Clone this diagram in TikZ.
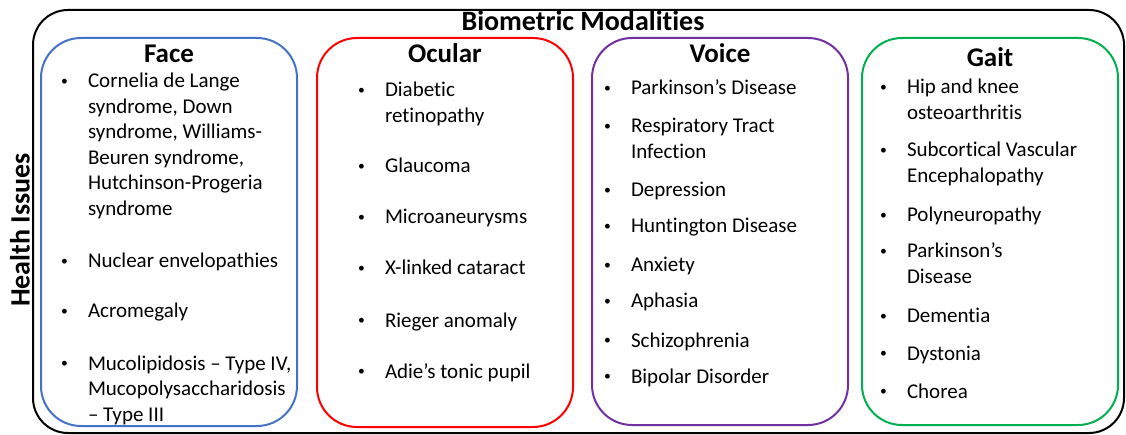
\documentclass[tikz,border=0pt]{standalone}
\usepackage{fontspec}
\setmainfont{Carlito}[Ligatures=NoCommon]
\definecolor{cblue}{HTML}{4472C4}
\definecolor{cred}{HTML}{FF0000}
\definecolor{cpurple}{HTML}{7030A0}
\definecolor{cgreen}{HTML}{00B050}
\newcommand\itm[1]{\llap{\makebox[0pt]{\raisebox{2.5pt}{\scalebox{0.65}{•}}}\hspace{23.5pt}}\begin{tabular}[t]{@{}l@{}}#1\end{tabular}}
\begin{document}
\begin{tikzpicture}[x=1pt,y=-1pt,
  every node/.style={inner sep=0pt, outer sep=0pt},
  item/.style={anchor=base west, font=\fontsize{21}{25.5}\selectfont},
  head/.style={anchor=base, font=\fontsize{27}{32}\selectfont\bfseries},
  mbox/.style={line width=2pt, rounded corners=40pt}]
\useasboundingbox (0,0) rectangle (1126,435);
% outer frame
\draw[line width=2pt, rounded corners=35pt] (33,10) rectangle (1124,433);
\node[anchor=base, font=\fontsize{28}{33}\selectfont\bfseries] (title) at (583,31) {Biometric Modalities};
\node[rotate=90, font=\fontsize{28}{33}\selectfont\bfseries] (health) at (20,230) {Health Issues};
% boxes
\draw[mbox, cblue] (41,38) rectangle (297,426);
\draw[mbox, cred] (317,38) rectangle (573,427);
\draw[mbox, cpurple] (592,38) rectangle (848,425);
\draw[mbox, cgreen] (862,38) rectangle (1118,425);
% headings
\node[head] (hface) at (169,63) {Face};
\node[head] (hocular) at (445,63) {Ocular};
\node[head] (hvoice) at (720,63) {Voice};
\node[head] (hgait) at (990,67) {Gait};
% Face
\node[item] (f1) at (88,88) {\itm{Cornelia de Lange\\syndrome, Down\\syndrome, Williams-\\Beuren syndrome,\\Hutchinson-Progeria\\syndrome}};
\node[item] (f2) at (88,268) {\itm{Nuclear envelopathies}};
\node[item] (f3) at (88,318) {\itm{Acromegaly}};
\node[item] (f4) at (88,370) {\itm{Mucolipidosis -- Type IV,\\Mucopolysaccharidosis\\-- Type III}};
% Ocular
\node[item] (o1) at (385,97) {\itm{Diabetic\\retinopathy}};
\node[item] (o2) at (385,173) {\itm{Glaucoma}};
\node[item] (o3) at (385,224) {\itm{Microaneurysms}};
\node[item] (o4) at (385,275) {\itm{X-linked cataract}};
\node[item] (o5) at (385,327) {\itm{Rieger anomaly}};
\node[item] (o6) at (385,378) {\itm{Adie’s tonic pupil}};
% Voice
\node[item] (v1) at (631,95) {\itm{Parkinson’s Disease}};
\node[item] (v2) at (631,133) {\itm{Respiratory Tract\\Infection}};
\node[item] (v3) at (631,197) {\itm{Depression}};
\node[item] (v4) at (631,233) {\itm{Huntington Disease}};
\node[item] (v5) at (631,272) {\itm{Anxiety}};
\node[item] (v6) at (631,308) {\itm{Aphasia}};
\node[item] (v7) at (631,347) {\itm{Schizophrenia}};
\node[item] (v8) at (631,383) {\itm{Bipolar Disorder}};
% Gait
\node[item] (g1) at (907,94) {\itm{Hip and knee\\osteoarthritis}};
\node[item] (g2) at (907,157) {\itm{Subcortical Vascular\\Encephalopathy}};
\node[item] (g3) at (907,222) {\itm{Polyneuropathy}};
\node[item] (g4) at (907,258) {\itm{Parkinson’s\\Disease}};
\node[item] (g5) at (907,323) {\itm{Dementia}};
\node[item] (g6) at (907,360) {\itm{Dystonia}};
\node[item] (g7) at (907,398) {\itm{Chorea}};
\end{tikzpicture}
\end{document}
